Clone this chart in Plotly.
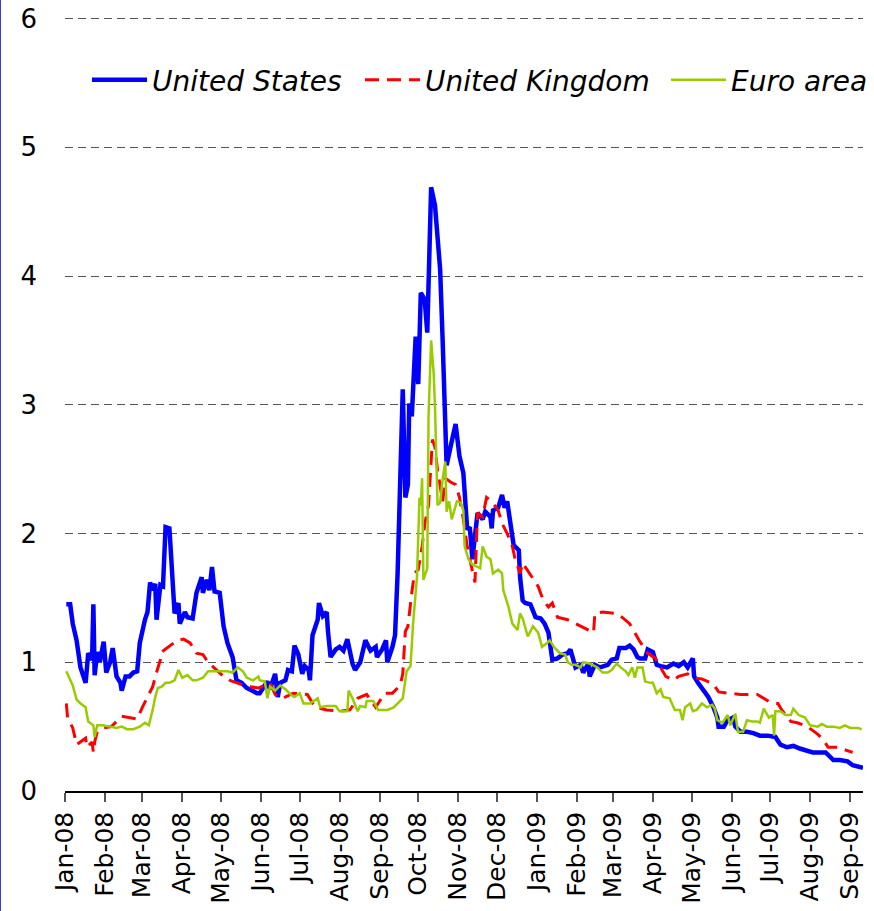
import pandas as pd
import plotly.graph_objects as go

# days since 1 Jan 2008, values in percentage points
us_days = [1, 4, 6, 9, 12, 16, 18, 21, 22, 23, 25, 27, 30, 32, 35, 37, 40, 43, 44, 47,
           50, 53, 56, 58, 62, 64, 66, 68, 70, 71, 74, 76, 78, 81, 85, 88, 89, 93, 95, 99,
           102, 106, 107, 110, 112, 114, 116, 120, 123, 126, 130, 133, 137, 141, 145, 149,
           151, 157, 159, 163, 165, 167, 171, 173, 176, 178, 181, 184, 186, 189, 190, 192,
           196, 197, 200, 203, 204, 206, 210, 213, 216, 219, 223, 225, 229, 233, 237, 241,
           242, 246, 249, 250, 254, 256, 258, 260, 262, 264, 266, 267, 269, 272, 274, 276,
           279, 281, 284, 287, 289, 291, 293, 296, 299, 303, 306, 309, 312, 314, 316, 318,
           320, 324, 326, 330, 331, 332, 336, 339, 341, 343, 345, 348, 352, 353, 355, 357,
           361, 365, 369, 372, 375, 378, 382, 386, 390, 392, 396, 400, 402, 406, 407, 411,
           415, 421, 424, 428, 430, 435, 438, 441, 444, 446, 450, 452, 456, 459, 462, 467,
           472, 476, 480, 483, 487, 488, 491, 495, 499, 503, 506, 507, 511, 514, 518, 520,
           524, 529, 534, 539, 545, 551, 555, 560, 565, 570, 576, 580, 586, 590, 594, 596,
           601, 607, 611, 617, 619]
us_vals = [1.45, 1.45, 1.30, 1.17, 0.96, 0.84, 1.07, 1.02, 1.45, 0.90, 1.08, 1.00, 1.16, 0.92,
           1.00, 1.11, 0.89, 0.84, 0.78, 0.89, 0.89, 0.92, 0.93, 1.15, 1.33, 1.39, 1.62, 1.56,
           1.61, 1.33, 1.60, 1.59, 2.05, 2.04, 1.38, 1.46, 1.30, 1.39, 1.35, 1.34, 1.54, 1.66,
           1.54, 1.64, 1.56, 1.74, 1.55, 1.54, 1.28, 1.15, 1.04, 0.86, 0.84, 0.80, 0.78, 0.76,
           0.76, 0.85, 0.79, 0.91, 0.73, 0.84, 0.86, 0.94, 0.93, 1.13, 1.06, 0.91, 0.97, 0.94,
           0.86, 1.21, 1.33, 1.46, 1.36, 1.39, 1.24, 1.04, 1.10, 1.12, 1.09, 1.18, 0.99, 0.94,
           1.00, 1.17, 1.09, 1.12, 1.04, 1.10, 1.17, 1.00, 1.12, 1.21, 1.69, 2.28, 3.12, 2.28,
           2.38, 3.01, 2.91, 3.53, 3.16, 3.87, 3.82, 3.56, 4.69, 4.55, 4.34, 4.05, 3.48, 2.53,
           2.67, 2.85, 2.60, 2.47, 2.03, 2.05, 1.80, 2.03, 2.16, 2.11, 2.17, 2.13, 2.04, 2.18,
           2.20, 2.30, 2.20, 2.25, 2.11, 1.91, 1.87, 1.66, 1.48, 1.46, 1.45, 1.35, 1.34, 1.30,
           1.23, 1.02, 1.03, 1.06, 1.07, 1.10, 0.96, 0.98, 0.92, 0.99, 0.89, 0.98, 0.96, 0.98,
           1.02, 1.03, 1.11, 1.11, 1.13, 1.10, 1.04, 1.03, 1.03, 1.10, 1.08, 0.98, 0.97, 0.96,
           0.99, 0.97, 1.00, 0.96, 1.03, 0.89, 0.84, 0.78, 0.73, 0.65, 0.57, 0.50, 0.50, 0.55,
           0.57, 0.50, 0.46, 0.46, 0.45, 0.43, 0.43, 0.42, 0.36, 0.34, 0.35, 0.33, 0.31, 0.30,
           0.30, 0.30, 0.26, 0.24, 0.24, 0.23, 0.20, 0.19, 0.18]

uk_days = [1, 2, 6, 9, 16, 17, 21, 22, 23, 25, 29, 36, 44, 50, 56, 60, 64, 68, 71, 74, 75,
           79, 87, 92, 97, 102, 107, 111, 118, 123, 128, 136, 144, 150, 159, 163, 169, 177,
           188, 194, 203, 213, 221, 227, 234, 241, 248, 254, 260, 262, 264, 266, 269, 271,
           274, 277, 279, 282, 285, 287, 289, 293, 295, 299, 303, 306, 309, 312, 317, 318,
           320, 324, 327, 331, 336, 339, 343, 347, 349, 353, 355, 361, 367, 371, 375, 378,
           382, 390, 394, 402, 410, 411, 417, 427, 432, 438, 442, 446, 452, 458, 466, 472,
           476, 483, 487, 494, 503, 507, 514, 524, 537, 547, 553, 556, 563, 568, 576, 584,
           588, 592, 599, 605, 611]
uk_vals = [0.68, 0.57, 0.49, 0.36, 0.41, 0.34, 0.38, 0.30, 0.38, 0.46, 0.49, 0.50, 0.58, 0.57,
           0.56, 0.65, 0.73, 0.81, 0.92, 1.02, 1.08, 1.11, 1.17, 1.18, 1.15, 1.07, 1.06, 1.00,
           0.94, 0.89, 0.86, 0.83, 0.81, 0.80, 0.84, 0.75, 0.72, 0.76, 0.75, 0.65, 0.63, 0.62,
           0.63, 0.72, 0.75, 0.65, 0.76, 0.76, 0.82, 0.91, 1.24, 1.28, 1.54, 1.69, 1.72, 1.90,
           2.07, 2.22, 2.73, 2.67, 2.49, 2.25, 2.43, 2.40, 2.38, 2.28, 2.11, 1.90, 1.66, 1.62,
           2.16, 2.13, 2.28, 2.25, 2.18, 2.08, 2.00, 1.90, 1.81, 1.69, 1.77, 1.68, 1.59, 1.48,
           1.43, 1.46, 1.35, 1.33, 1.31, 1.27, 1.23, 1.38, 1.39, 1.38, 1.35, 1.30, 1.23, 1.16,
           1.07, 1.03, 0.89, 0.86, 0.89, 0.91, 0.88, 0.87, 0.83, 0.77, 0.76, 0.75, 0.75, 0.69,
           0.68, 0.63, 0.54, 0.53, 0.50, 0.44, 0.40, 0.34, 0.34, 0.32, 0.30]

ea_days = [1, 4, 6, 9, 12, 16, 18, 22, 23, 25, 29, 35, 40, 44, 48, 53, 58, 62, 65, 68, 70,
           72, 75, 78, 81, 85, 88, 91, 93, 95, 99, 102, 107, 111, 116, 120, 126, 130, 134,
           138, 141, 146, 150, 151, 155, 157, 159, 163, 167, 171, 175, 178, 182, 185, 190,
           196, 198, 203, 210, 213, 219, 220, 223, 227, 229, 233, 234, 239, 243, 250, 255,
           260, 262, 265, 268, 270, 273, 275, 276, 277, 278, 281, 282, 284, 286, 287, 289,
           291, 293, 295, 296, 298, 300, 304, 307, 309, 310, 313, 316, 320, 322, 324, 327,
           330, 332, 336, 339, 340, 344, 347, 351, 353, 355, 359, 363, 367, 370, 374, 376,
           380, 384, 388, 390, 393, 396, 400, 402, 407, 413, 417, 421, 424, 428, 431, 435,
           437, 440, 442, 444, 448, 450, 454, 456, 459, 462, 464, 469, 473, 477, 479, 481,
           485, 487, 490, 494, 498, 502, 504, 506, 510, 514, 516, 520, 522, 526, 529, 533,
           537, 539, 542, 546, 549, 550, 551, 555, 559, 563, 565, 569, 574, 578, 584, 587,
           591, 596, 601, 605, 609, 615, 618]
ea_vals = [0.93, 0.86, 0.82, 0.71, 0.68, 0.65, 0.54, 0.51, 0.42, 0.51, 0.51, 0.50, 0.49, 0.50,
           0.48, 0.48, 0.50, 0.53, 0.51, 0.63, 0.73, 0.80, 0.81, 0.84, 0.84, 0.86, 0.94, 0.88,
           0.89, 0.90, 0.86, 0.86, 0.88, 0.93, 0.93, 0.93, 0.93, 0.92, 0.96, 0.93, 0.88, 0.86,
           0.89, 0.86, 0.85, 0.72, 0.81, 0.78, 0.82, 0.79, 0.75, 0.73, 0.76, 0.68, 0.68, 0.72,
           0.65, 0.66, 0.66, 0.62, 0.62, 0.78, 0.72, 0.62, 0.66, 0.65, 0.70, 0.70, 0.63, 0.63,
           0.65, 0.70, 0.72, 0.93, 0.97, 1.30, 1.66, 2.28, 2.22, 2.43, 1.64, 1.73, 2.91, 3.50,
           3.24, 2.98, 2.22, 2.24, 2.43, 2.56, 2.17, 2.25, 2.11, 2.25, 2.24, 2.18, 1.90, 1.80,
           1.76, 1.74, 1.73, 1.90, 1.82, 1.80, 1.69, 1.72, 1.69, 1.56, 1.43, 1.30, 1.25, 1.38,
           1.34, 1.20, 1.28, 1.23, 1.12, 1.15, 1.17, 1.11, 1.07, 1.06, 1.00, 0.98, 0.98, 0.96,
           1.00, 0.99, 0.96, 0.92, 0.92, 0.94, 0.99, 0.96, 0.93, 0.90, 0.96, 0.88, 0.96, 0.96,
           0.85, 0.84, 0.84, 0.76, 0.79, 0.73, 0.72, 0.63, 0.63, 0.55, 0.65, 0.68, 0.62, 0.63,
           0.68, 0.65, 0.67, 0.64, 0.55, 0.53, 0.59, 0.51, 0.60, 0.46, 0.46, 0.55, 0.54, 0.54,
           0.53, 0.64, 0.57, 0.59, 0.43, 0.62, 0.62, 0.59, 0.59, 0.64, 0.59, 0.57, 0.51, 0.50,
           0.52, 0.50, 0.50, 0.49, 0.51, 0.49, 0.49, 0.48]

month_ticks = pd.date_range("2008-01-01", "2009-09-01", freq="MS")
y_ticks = [0, 1, 2, 3, 4, 5, 6]

START = pd.Timestamp("2008-01-01")


def to_dates(days):
    return START + pd.to_timedelta(days, unit="D")


FONT = "DejaVu Sans"

W, H = 874, 911
ML, MR, MT, MB = 65, 11, 16, 120
pw = W - ML - MR
ph = H - MT - MB

fig = go.Figure()
fig.add_trace(go.Scatter(x=to_dates(us_days), y=us_vals, mode="lines", name="United States",
                         line=dict(color="#0000FF", width=4.5), legend="legend"))
fig.add_trace(go.Scatter(x=to_dates(uk_days), y=uk_vals, mode="lines", name="United Kingdom",
                         line=dict(color="#FF0000", width=3, dash="14px,8px"), legend="legend2"))
fig.add_trace(go.Scatter(x=to_dates(ea_days), y=ea_vals, mode="lines", name="Euro area",
                         line=dict(color="#99CC00", width=2.5), legend="legend3"))


def legend_at(px_left):
    # one legend box per series, so each entry sits where the original has it
    return dict(orientation="h", x=(px_left - ML) / pw, y=1 - (80 - MT) / ph,
                xanchor="left", yanchor="middle",
                font=dict(family=FONT, size=28, style="italic"),
                bgcolor="rgba(0,0,0,0)", itemwidth=55)


fig.update_layout(
    width=W, height=H,
    margin=dict(l=ML, r=MR, t=MT, b=MB, autoexpand=False),
    paper_bgcolor="white", plot_bgcolor="white",
    font=dict(family=FONT, size=26, color="black"),
    showlegend=True,
    legend=legend_at(87),
    legend2=legend_at(360),
    legend3=legend_at(666),
    xaxis=dict(range=[START, START + pd.Timedelta(days=619)], automargin=False,
               tickvals=month_ticks, tickformat="%b-%y", tickangle=-90,
               ticks="outside", ticklen=9, tickcolor="#555", tickwidth=1.5,
               showline=True, linecolor="black", linewidth=1.5,
               showgrid=False, zeroline=False,
               tickfont=dict(family=FONT, size=25)),
    yaxis=dict(range=[0, 6.02], tickvals=y_ticks, showgrid=True, gridcolor="#555",
               griddash="8px,5px", gridwidth=1, zeroline=False, showline=False,
               automargin=False,
               ticks="", ticklabelstandoff=27, tickfont=dict(family=FONT, size=26)),
    shapes=[dict(type="line", xref="paper", yref="paper",
                 x0=-ML / pw, x1=-ML / pw, y0=-2, y1=2,
                 line=dict(color="#3b3bd0", width=2))],
)

fig.write_html("out.html", config={"displayModeBar": False},
               post_script="document.body.style.margin='0';")
